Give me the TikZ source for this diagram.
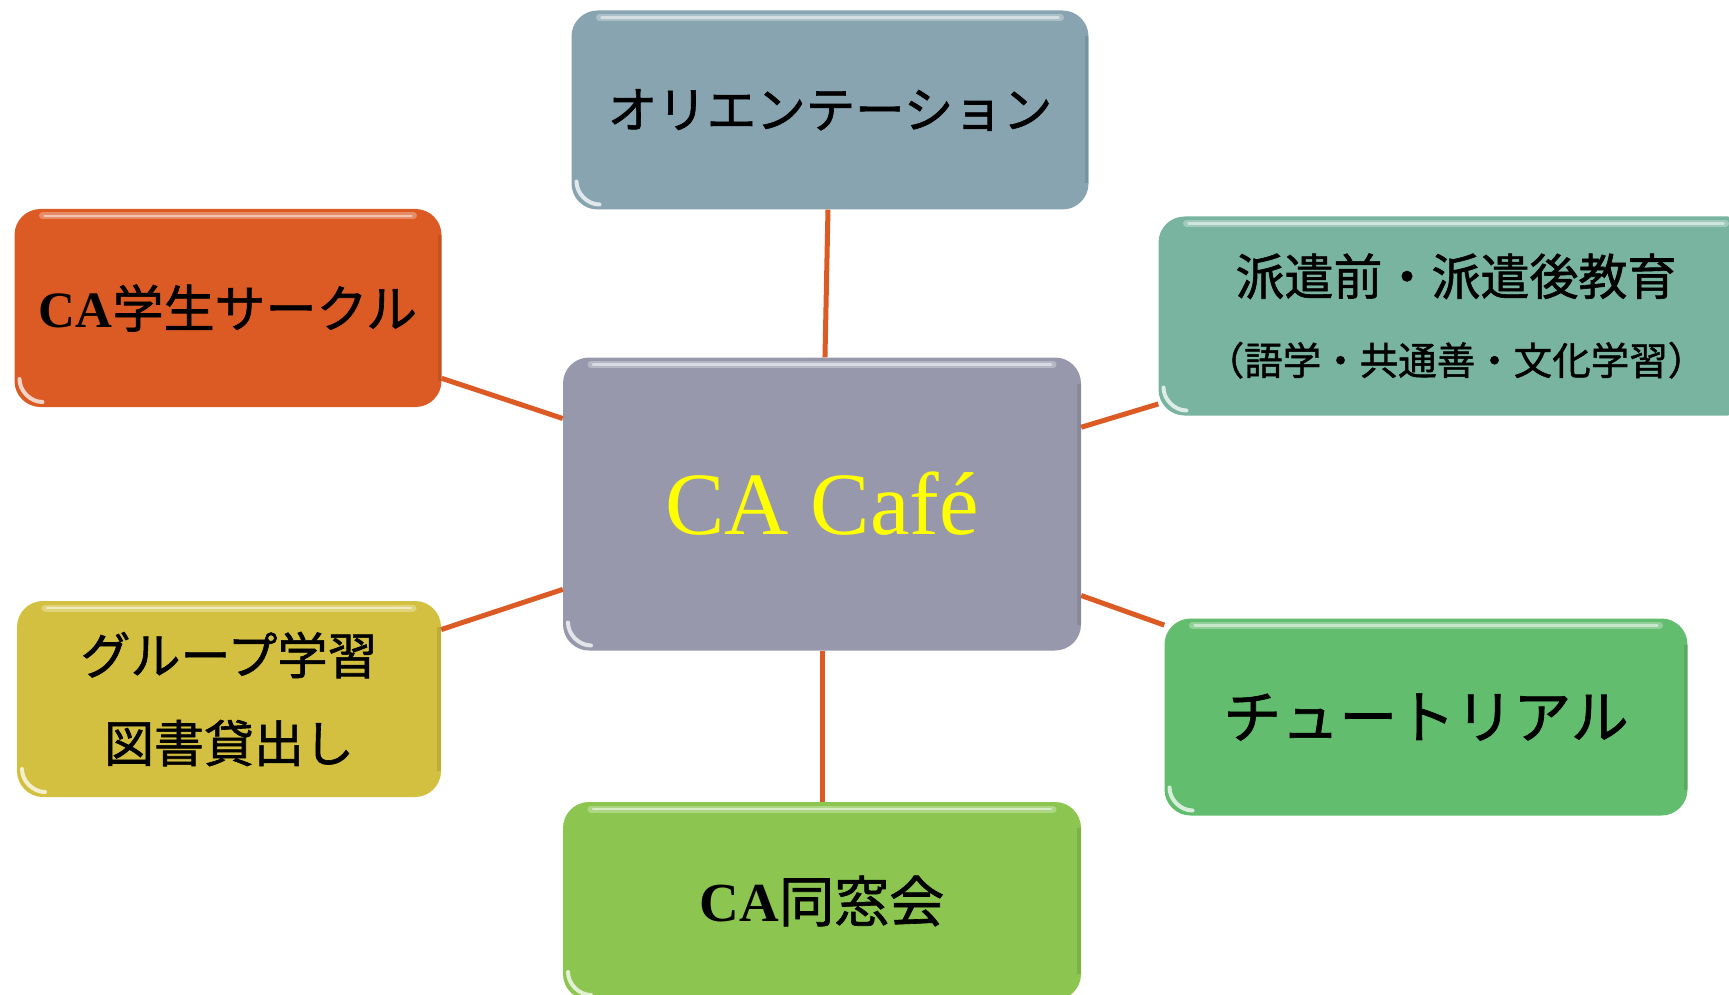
\documentclass[tikz,border=0pt]{standalone}
\usepackage{fontspec}
\setmainfont{Liberation Serif}
\newfontfamily\jp[FakeBold=1.2]{Noto Sans CJK JP}
\definecolor{cOrient}{HTML}{87A4B0}
\definecolor{cCircle}{HTML}{DC5A24}
\definecolor{cHaken}{HTML}{78B4A0}
\definecolor{cCenter}{HTML}{9798AC}
\definecolor{cYellow}{HTML}{D4C040}
\definecolor{cTutor}{HTML}{62BE6E}
\definecolor{cAlumni}{HTML}{8CC650}
\definecolor{cLink}{HTML}{DC5A24}
\definecolor{cCafe}{HTML}{FFFF00}
\tikzset{
 gbox/.style={rounded corners=26pt, inner sep=0pt, align=center, text=black,
   path picture={
     \draw[white,opacity=.3,line width=7pt,line cap=round]
       ([xshift=28pt,yshift=-7pt]path picture bounding box.north west) --
       ([xshift=-28pt,yshift=-7pt]path picture bounding box.north east);
     \draw[white,opacity=.5,line width=2.5pt,line cap=round]
       ([xshift=30pt,yshift=-7pt]path picture bounding box.north west) --
       ([xshift=-30pt,yshift=-7pt]path picture bounding box.north east);
     \draw[white,opacity=.75,line width=4pt,line cap=round]
       ([xshift=5pt,yshift=28pt]path picture bounding box.south west) ..
       controls ([xshift=5pt,yshift=16pt]path picture bounding box.south west)
       and ([xshift=16pt,yshift=5pt]path picture bounding box.south west) ..
       ([xshift=28pt,yshift=5pt]path picture bounding box.south west);
     \draw[black,opacity=.10,line width=4pt]
       ([xshift=-2pt,yshift=-26pt]path picture bounding box.north east) --
       ([xshift=-2pt,yshift=26pt]path picture bounding box.south east);
   }},
 link/.style={draw=cLink, line width=5pt}
}
\begin{document}
\begin{tikzpicture}[x=1pt,y=-1pt]
\useasboundingbox (0,0) rectangle (1729,995);
\fill[white] (0,0) rectangle (1729,995);
\clip (0,0) rectangle (1729,995);

\node[gbox, fill=cOrient, minimum width=517pt, minimum height=199pt,
      font=\jp\fontsize{49.5}{49.5}\selectfont] (orient) at (830,110) {オリエンテーション};

\node[gbox, fill=cCircle, minimum width=427pt, minimum height=198pt,
      font=\fontsize{51}{51}\selectfont] (circle) at (228,308) {{\bfseries CA}{\jp 学生サークル}};

\node[gbox, fill=cHaken, minimum width=595pt, minimum height=199pt,
      font=\jp\fontsize{49}{80}\selectfont] (haken) at (1456,316)
      {派遣前・派遣後教育\\{\fontsize{38.5}{80}\selectfont （語学・共通善・文化学習）}};

\node[gbox, fill=cCenter, minimum width=518pt, minimum height=293pt,
      font=\fontsize{89}{89}\selectfont, text=cCafe] (center) at (822,504) {CA Café};

\node[gbox, fill=cYellow, minimum width=424pt, minimum height=196pt,
      font=\jp\fontsize{50}{88}\selectfont] (yellow) at (229,699) {グループ学習\\図書貸出し};

\node[gbox, fill=cTutor, minimum width=523pt, minimum height=197pt,
      font=\jp\fontsize{58}{58}\selectfont] (tutor) at (1426,717) {チュートリアル};

\node[gbox, fill=cAlumni, minimum width=518pt, minimum height=198pt,
      font=\fontsize{55}{55}\selectfont] (alumni) at (822,901) {{\bfseries CA}{\jp 同窓会}};

\draw[link] (center) -- (orient);
\draw[link] (center) -- (circle);
\draw[link] (center) -- (haken);
\draw[link] (center) -- (yellow);
\draw[link] (center) -- (tutor);
\draw[link] (center) -- (alumni);
\end{tikzpicture}
\end{document}
